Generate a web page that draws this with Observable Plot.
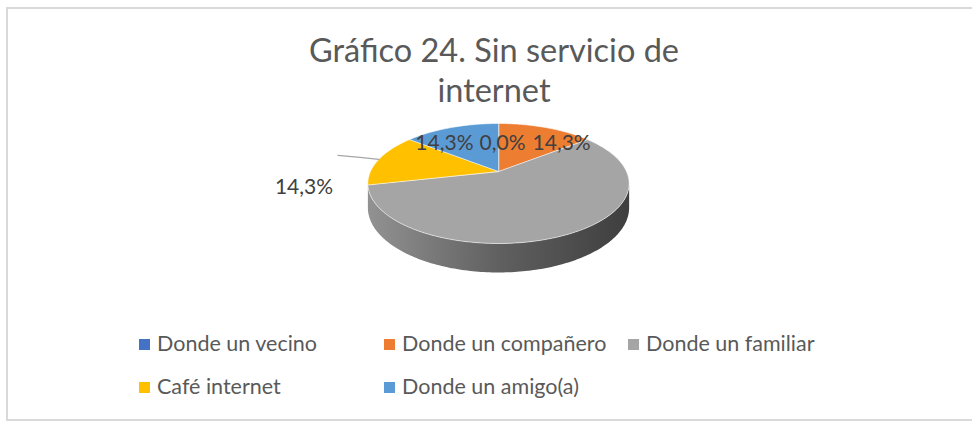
<!DOCTYPE html>
<html>
<head>
<meta charset="utf-8">
<script src="https://cdn.jsdelivr.net/npm/d3@7"></script>
<script src="https://cdn.jsdelivr.net/npm/@observablehq/plot@0.6"></script>
<style>
  body { margin: 0; background: #fff; }
  #wrap { position: relative; width: 972px; height: 422px; overflow: hidden; font-family: Lato, "Open Sans", sans-serif; }
  #chart { position: absolute; left: 0; top: 0; }
  #frame { position: absolute; left: 6px; top: 7px; width: 990px; height: 414px; border: 2px solid #d9d9d9; box-sizing: border-box; pointer-events: none; }
  #title { position: absolute; left: 244px; width: 500px; top: 30px; text-align: center; font-size: 32.5px; line-height: 40px; color: #595959; }
  .lg { position: absolute; display: flex; align-items: center; font-size: 21.5px; line-height: 1; color: #595959; white-space: nowrap; }
  .lg i { display: inline-block; width: 11px; height: 11px; margin-right: 7px; }
</style>
</head>
<body>
<div id="wrap">
  <div id="chart"></div>
  <div id="frame"></div>
  <div id="title">Gráfico 24. Sin servicio de<br>internet</div>
  <div id="legend"></div>
</div>
<script>
// ---- data ----
const categories = ["Donde un vecino", "Donde un compañero", "Donde un familiar", "Café internet", "Donde un amigo(a)"];
const values = [0.0, 14.3, 57.1, 14.3, 14.3];
const palette = ["#4472C4", "#ED7D31", "#A5A5A5", "#FFC000", "#5B9BD5"];
const hiddenLabels = ["Donde un familiar"];

// ---- layout (label nudges in px from the slice's rim midpoint) ----
const nudge = {
  "Donde un vecino": {dx: 4, dy: 20},
  "Donde un compañero": {dx: 16, dy: 16},
  "Café internet": {dx: -75, dy: 28},
  "Donde un amigo(a)": {dx: -7, dy: 16}
};
const leaderCategory = "Café internet";
const leaderBends = [{dx: 0, dy: 0}, {dx: -19, dy: -2}, {dx: -41, dy: -4}];
const legendCols = [139, 384, 628];
const legendRows = [344, 387];

// ---- 3D projection ----
const sinA = 0.45, cosA = Math.sqrt(1 - sinA * sinA);
const D = 5 * cosA;      // perspective distance (pie radius = 1)
const H = 0.181;         // thickness
function proj(t, r, h) {
  const X = r * Math.sin(t), Z = r * Math.cos(t);
  const s = D / (D + Z * cosA);
  return {x: X * s, y: -Z * sinA * s + h * s};
}
const thetaR = Math.acos(-cosA / D), thetaL = 2 * Math.PI - thetaR;

const rows = categories.map((c, i) => ({category: c, value: values[i], color: palette[i]}));
const arcs = d3.pie().sort(null).value(d => d.value)(rows);

function arcPts(a0, a1, h) {
  const n = Math.max(2, Math.ceil((a1 - a0) / (Math.PI / 180)));
  return d3.range(n + 1).map(k => proj(a0 + (a1 - a0) * k / n, 1, h));
}

const xScale = {domain: [-1, 1], range: [370, 626], axis: null};
const yScale = {domain: [-1, 1], range: [43, 299], axis: null};
const sx = Plot.scale({x: xScale}), sy = Plot.scale({y: yScale});

const marks = [];
// side walls
arcs.forEach((a, i) => {
  const lo = Math.max(a.startAngle, thetaR), hi = Math.min(a.endAngle, thetaL);
  if (hi <= lo) return;
  const pts = arcPts(lo, hi, 0).concat(arcPts(lo, hi, H).reverse());
  marks.push(Plot.line(pts, {x: "x", y: "y", fill: `url(#side-${i})`, stroke: "none", curve: "linear-closed"}));
});
// top faces
arcs.forEach((a, i) => {
  if (a.endAngle - a.startAngle <= 0) return;
  const pts = [{x: 0, y: 0}].concat(arcPts(a.startAngle, a.endAngle, 0));
  marks.push(Plot.line(pts, {x: "x", y: "y", fill: a.data.color, stroke: "#ffffff", strokeOpacity: 0.55, strokeWidth: 1, curve: "linear-closed"}));
});
// leader line
const la = arcs.find(a => a.data.category === leaderCategory);
const lp = proj((la.startAngle + la.endAngle) / 2, 1, 0);
const leader = leaderBends.map(b => ({x: sx.invert(sx.apply(lp.x) + b.dx), y: sy.invert(sy.apply(lp.y) + b.dy)}));
marks.push(Plot.line(leader, {x: "x", y: "y", stroke: "#a6a6a6", strokeWidth: 1.2, curve: "natural"}));
// labels
const fmt = v => v.toFixed(1).replace(".", ",") + "%";
arcs.filter(a => !hiddenLabels.includes(a.data.category)).forEach(a => {
  const p = proj((a.startAngle + a.endAngle) / 2, 1, 0);
  const n = nudge[a.data.category];
  marks.push(Plot.text([{x: p.x, y: p.y, text: fmt(a.data.value)}], {x: "x", y: "y", text: "text", dx: n.dx, dy: n.dy, fontSize: 21, fontFamily: "Lato, 'Open Sans', sans-serif", fill: "#404040"}));
});

const plot = Plot.plot({
  width: 972, height: 422, margin: 0,
  x: xScale, y: yScale,
  style: {background: "transparent", overflow: "visible"},
  marks
});

// gradient defs for side walls
const defs = arcs.map((a, i) => {
  const c = d3.rgb(a.data.color);
  const k = f => d3.rgb(c.r * f, c.g * f, c.b * f).formatHex();
  return `<linearGradient id="side-${i}" gradientUnits="userSpaceOnUse" x1="${sx.apply(-1)}" y1="0" x2="${sx.apply(1)}" y2="0">
    <stop offset="0" stop-color="${k(0.88)}"/><stop offset="0.5" stop-color="${k(0.58)}"/><stop offset="1" stop-color="${k(0.38)}"/></linearGradient>`;
}).join("");
plot.insertAdjacentHTML("afterbegin", `<defs>${defs}</defs>`);

document.getElementById("chart").append(plot);

// legend
const legend = document.getElementById("legend");
categories.forEach((c, i) => {
  const col = i % 3, row = Math.floor(i / 3);
  const el = document.createElement("div");
  el.className = "lg";
  el.style.left = legendCols[col] + "px";
  el.style.top = (legendRows[row] - 11) + "px";
  el.style.height = "22px";
  el.innerHTML = `<i style="background:${palette[i]}"></i><span>${c}</span>`;
  legend.append(el);
});
</script>
</body>
</html>
